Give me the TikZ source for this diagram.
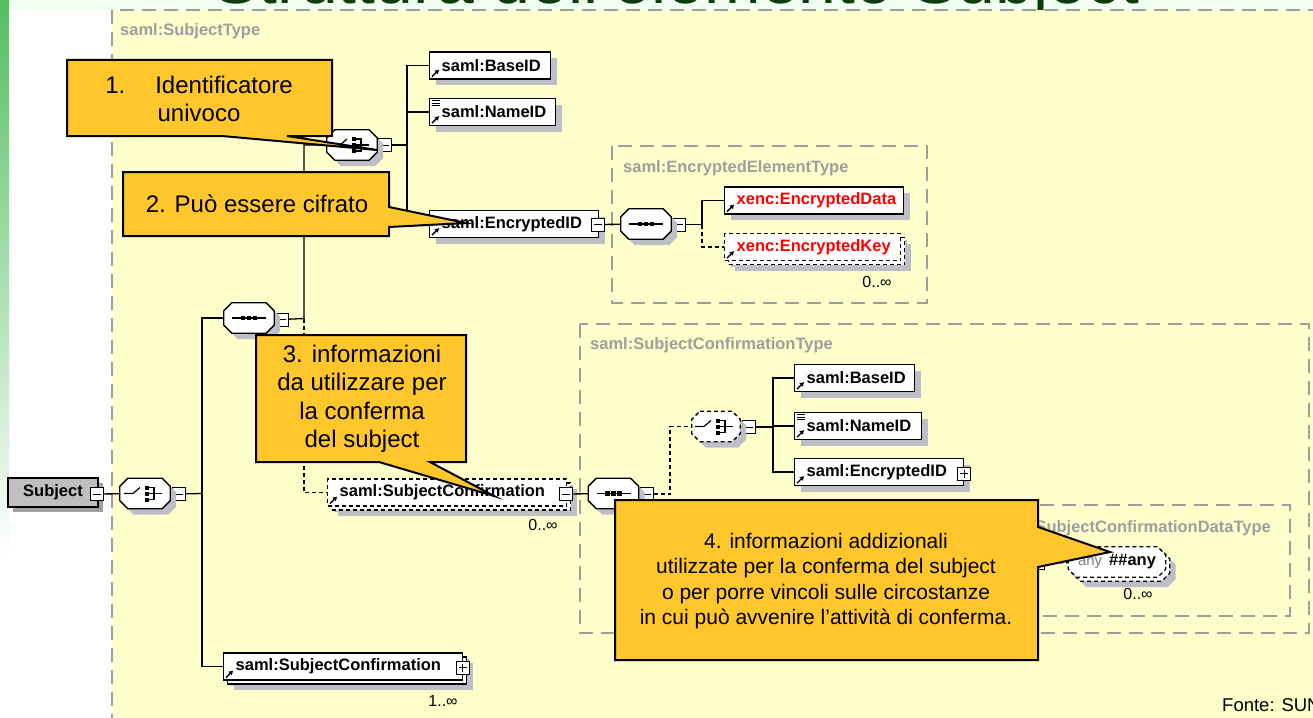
\documentclass[tikz,border=0pt]{standalone}
\usepackage{fontspec}
\setmainfont{Liberation Sans}
\usetikzlibrary{shadows, arrows.meta}

\definecolor{paneyellow}{RGB}{255,255,204}
\definecolor{panegray}{RGB}{158,158,158}
\definecolor{notefill}{RGB}{255,199,44}
\definecolor{titlegreen}{RGB}{14,60,14}
\definecolor{stripegreen}{RGB}{84,190,98}
\definecolor{shadowgray}{RGB}{190,190,198}
\definecolor{xencred}{RGB}{255,0,0}

\newcommand{\elemfont}{\fontsize{16.5}{19}\selectfont\bfseries}
\newcommand{\notefont}{\fontsize{24}{28.5}\selectfont}
\newcommand{\multfont}{\fontsize{16}{18}\selectfont}

\newcommand{\refmark}[1]{\draw[line width=1.3pt, -{Triangle[length=4pt, width=4.5pt]}] ([shift={(3,-3)}]#1.south west) -- ++(7,-7);}
\newcommand{\namemark}[1]{\foreach \dy in {3,5.5,8} \draw[line width=0.9pt] ([shift={(2.5,\dy)}]#1.north west) -- ++(8,0);}
\newcommand{\octcoords}[1]{([xshift=8pt]#1.north west) -- ([xshift=-8pt]#1.north east) -- ([yshift=-8pt]#1.north east) -- ([yshift=8pt]#1.south east) -- ([xshift=-8pt]#1.south east) -- ([xshift=8pt]#1.south west) -- ([yshift=8pt]#1.south west) -- ([yshift=-8pt]#1.north west) -- cycle}
\newcommand{\octagon}[2][]{%
  \fill[shadowgray, transform canvas={shift={(6pt,-6pt)}}] \octcoords{#2};
  \draw[line width=1.3pt, fill=white, #1] \octcoords{#2};}
\newcommand{\octstack}[1]{%
  \fill[shadowgray, transform canvas={shift={(10pt,-10pt)}}] \octcoords{#1};
  \draw[line width=1.3pt, fill=white, dash pattern=on 4pt off 3pt, transform canvas={shift={(4pt,-4pt)}}] \octcoords{#1};
  \draw[line width=1.3pt, fill=white, dash pattern=on 4pt off 3pt] \octcoords{#1};}
\newcommand{\seqmark}[1]{%
  \draw[line width=1.2pt] ([xshift=-17pt]#1.center) -- ([xshift=17pt]#1.center);
  \foreach \dx in {-6,0,6} \fill ([xshift=\dx pt]#1.center) +(-2.2,-2.2) rectangle +(2.2,2.2);}
\newcommand{\chomark}[1]{%
  \draw[line width=1.2pt] ([xshift=-21pt]#1.center) -- ([xshift=-12pt]#1.center) -- ([shift={(-5,-6)}]#1.center);
  \foreach \dy in {-6,0,6} \fill ([shift={(2,\dy)}]#1.center) +(-2,-2) rectangle +(2,2);
  \draw[line width=1.2pt] ([shift={(4,-6)}]#1.center) -- ([shift={(9,-6)}]#1.center) -- ([shift={(9,6)}]#1.center) -- ([shift={(4,6)}]#1.center);
  \draw[line width=1.2pt] ([shift={(4,0)}]#1.center) -- ([shift={(17,0)}]#1.center);}

\tikzset{
  conn/.style={line width=1.3pt},
  dconn/.style={line width=1.3pt, dash pattern=on 4pt off 3pt},
  typebox/.style={draw=panegray, fill=paneyellow, line width=1.6pt, dash pattern=on 14pt off 8pt},
  typelabel/.style={anchor=base west, text=panegray, font=\elemfont, inner sep=0pt},
  elem/.style={draw, fill=white, line width=1.3pt, font=\elemfont, anchor=west, align=left,
    text width=#1, minimum height=27pt, inner xsep=12pt, inner ysep=0pt,
    drop shadow={shadow xshift=6pt, shadow yshift=-6pt, fill=shadowgray, opacity=1}},
  stacked/.style={drop shadow={shadow xshift=10pt, shadow yshift=-10pt, fill=shadowgray, opacity=1},
    copy shadow={shadow xshift=4pt, shadow yshift=-4pt, draw, line width=1.3pt, fill=white, #1}},
  stacked/.default={},
  comp/.style={rectangle, minimum width=50pt, minimum height=30pt, inner sep=0pt},
  subjbox/.style={draw, fill=gray!50, line width=1.3pt, font=\elemfont, minimum width=90pt,
    minimum height=29pt, inner sep=0pt,
    drop shadow={shadow xshift=5pt, shadow yshift=-5pt, fill=gray!75, opacity=1}},
  minusbox/.style={draw, fill=white, line width=1pt, minimum size=13pt, inner sep=0pt,
    path picture={\draw[line width=1pt] ([xshift=2.5pt]path picture bounding box.west) -- ([xshift=-2.5pt]path picture bounding box.east);}},
  plusbox/.style={draw, fill=white, line width=1pt, minimum size=13pt, inner sep=0pt,
    path picture={\draw[line width=1pt] ([xshift=2.5pt]path picture bounding box.west) -- ([xshift=-2.5pt]path picture bounding box.east);
      \draw[line width=1pt] ([yshift=2.5pt]path picture bounding box.south) -- ([yshift=-2.5pt]path picture bounding box.north);}},
  mult/.style={font=\multfont, inner sep=0pt},
  note/.style={draw=black, fill=notefill, line width=2pt, line join=miter},
  notetext/.style={font=\notefont, align=center, inner sep=0pt}
}

\begin{document}
\begin{tikzpicture}[x=1pt, y=-1pt]
  \useasboundingbox (0,0) rectangle (1313,717);
  \clip (0,0) rectangle (1313,717);
  \fill[white] (0,0) rectangle (1313,717);
  \fill[green!6!white] (0,0) rectangle (1313,10);
  \shade[top color=stripegreen, bottom color=white] (0,0) rectangle (9,560);
  \node[anchor=base west, text=titlegreen, font=\fontsize{68}{70}\selectfont, inner sep=0pt] (title) at (213,4) {Struttura dell’elemento Subject};

  \draw[typebox] (112,10) rectangle (1340,740);
  \draw[typebox] (612,146) rectangle (927,303);
  \draw[typebox] (580,324) rectangle (1309,633);
  \draw[typebox] (978,505) rectangle (1290,616);
  \node[typelabel] (lsubj) at (120,36) {saml:SubjectType};
  \node[typelabel] (lenc) at (623,172) {saml:EncryptedElementType};
  \node[typelabel] (lconf) at (590,349) {saml:SubjectConfirmationType};
  \node[typelabel, anchor=base east] (ldata) at (1271,532) {saml:SubjectConfirmationDataType};

  \node[subjbox] (subj) at (53,492.5) {Subject};
  \node[minusbox] (subjm) at (96.5,494) {};
  \node[comp] (cho1) at (145,493.5) {};
  \node[minusbox] (cho1m) at (179,494) {};
  \node[comp] (seq1) at (249,318) {};
  \node[minusbox] (seq1m) at (282,319.5) {};
  \node[comp] (cho2) at (352,145) {};
  \node[minusbox] (cho2m) at (385,145) {};

  \node[elem=97pt] (sbase) at (429,65.5) {saml:BaseID};
  \node[elem=102pt] (sname) at (429,112) {saml:NameID};
  \node[elem=145pt] (sencr) at (429,224) {saml:EncryptedID};
  \node[minusbox] (sencrm) at (598,224.5) {};
  \node[comp] (seq2) at (646,224) {};
  \node[minusbox] (seq2m) at (679,224.5) {};
  \node[elem=155pt, text=xencred] (xdata) at (724,200.5) {xenc:EncryptedData};
  \node[elem=152pt, text=xencred, dash pattern=on 4pt off 3pt, stacked={dash pattern=on 4pt off 3pt}] (xkey) at (724,247) {xenc:EncryptedKey};
  \node[mult] (xkeyn) at (877,282) {0..∞};

  \node[elem=215pt, dash pattern=on 4pt off 3pt, stacked={dash pattern=on 4pt off 3pt}] (scdash) at (327,492.5) {saml:SubjectConfirmation};
  \node[minusbox] (scdashm) at (566,494) {};
  \node[mult] (scdashn) at (543,525) {0..∞};
  \node[elem=215pt, stacked] (scbot) at (223,666.5) {saml:SubjectConfirmation};
  \node[plusbox] (scbotm) at (462.5,667.5) {};
  \node[mult] (scbotn) at (443,701) {1..∞};

  \node[comp] (seq3) at (613.5,493.5) {};
  \node[minusbox] (seq3m) at (646.5,494) {};
  \node[comp, minimum width=48pt] (cho3) at (716,426.5) {};
  \node[minusbox] (cho3m) at (748.5,427) {};
  \node[elem=96pt] (cbase) at (794,378) {saml:BaseID};
  \node[elem=103pt] (cname) at (794,426) {saml:NameID};
  \node[elem=145pt] (cencr) at (794,472) {saml:EncryptedID};
  \node[plusbox] (cencrm) at (964,473.5) {};

  \node[minusbox] (scdm) at (1038,563) {};
  \node[comp, minimum width=97pt] (anyw) at (1117,562) {};
  \node[mult] (anyn) at (1138,594) {0..∞};

  \coordinate (t1) at (202,493.5);
  \coordinate (t2) at (304,318.5);
  \coordinate (t3) at (407,145);
  \coordinate (t4) at (702,224.5);
  \coordinate (t5) at (670,494);
  \coordinate (t6) at (773,427);

  \draw[conn] (subjm) -- (cho1);
  \draw[conn] (cho1m) -- (t1);
  \draw[conn] (seq1.west) -| (t1) |- (scbot.west);
  \draw[conn] (seq1m) -- (t2) |- (cho2.west);
  \draw[dconn] (t2) |- (scdash.west);
  \draw[conn] (cho2m) -- (t3);
  \draw[conn] (sbase.west) -| (t3) |- (sencr.west);
  \draw[conn] (sname.west) -- (sname.west -| t3);
  \draw[conn] (sencrm) -- (seq2);
  \draw[conn] (seq2m) -- (t4);
  \draw[conn] (xdata.west) -| (t4);
  \draw[dconn] (t4) |- (xkey.west);
  \draw[conn] (scdashm) -- (seq3);
  \draw[dconn] (seq3m) -- (t5) |- (cho3.west);
  \draw[conn] (cho3m) -- (t6);
  \draw[conn] (cbase.west) -| (t6) |- (cencr.west);
  \draw[conn] (cname.west) -- (cname.west -| t6);
  \draw[dconn] (scdm) -- (anyw);

  \octagon{cho1} \octagon{cho2} \octagon[dash pattern=on 4pt off 3pt]{cho3}
  \octagon{seq1} \octagon{seq2} \octagon{seq3}
  \octstack{anyw}
  \node[inner sep=0pt] (anyt) at (anyw.center) {{\fontsize{15}{17}\selectfont\color{gray}any}\hspace{7pt}{\elemfont\#\#any}};
  \chomark{cho1}
  \chomark{cho2}
  \chomark{cho3}
  \seqmark{seq1}
  \seqmark{seq2}
  \seqmark{seq3}
  \refmark{sbase} \refmark{sname} \refmark{sencr} \refmark{xdata} \refmark{xkey}
  \refmark{scdash} \refmark{scbot} \refmark{cbase} \refmark{cname} \refmark{cencr}
  \namemark{sname} \namemark{cname}

  \draw[note] (67,60) -- (332,60) -- (332,136) -- (287,136) -- (377,150) -- (222,136) -- (67,136) -- cycle;
  \node[notetext] (n1) at (199,99) {1.\hspace{30pt}Identificatore\\univoco};
  \draw[note] (123,172) -- (389,172) -- (389,207) -- (466,223) -- (389,227) -- (389,236) -- (123,236) -- cycle;
  \node[notetext] (n2) at (257,204) {2. Può essere cifrato};
  \draw[note] (256,335) -- (466,335) -- (466,462) -- (430,462) -- (494,496) -- (379,462) -- (256,462) -- cycle;
  \node[notetext] (n3) at (362,399) {3. informazioni\\da utilizzare per\\la conferma\\del subject};
  \draw[note] (615,500) -- (1038,500) -- (1038,527) -- (1110,552) -- (1038,567) -- (1038,660) -- (615,660) -- cycle;
  \node[notetext, font=\fontsize{21}{25.5}\selectfont] (n4) at (826,581) {4. informazioni addizionali\\utilizzate per la conferma del subject\\o per porre vincoli sulle circostanze\\in cui può avvenire l’attività di conferma.};

  \node[anchor=base west, font=\fontsize{18.5}{21}\selectfont, inner sep=0pt] (src) at (1222,711) {Fonte: SUN};
\end{tikzpicture}
\end{document}
